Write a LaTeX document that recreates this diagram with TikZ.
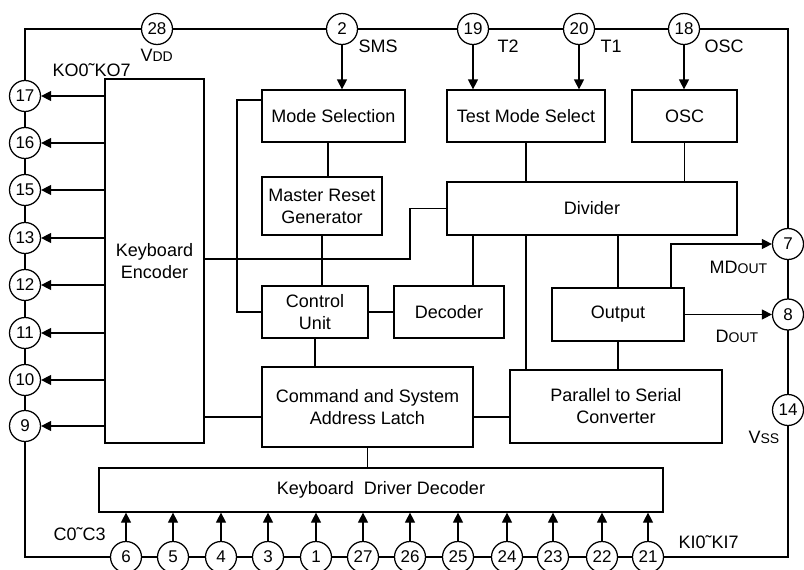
\documentclass[tikz,border=0pt]{standalone}
\usepackage{fontspec}
\setmainfont{Liberation Sans}
\usetikzlibrary{arrows.meta}
\newcommand\smc[1]{{\fontsize{14}{14}\selectfont #1}}
\begin{document}
\begin{tikzpicture}[x=1pt,y=-1pt,
 line width=1.25pt,
 box/.style={draw, line width=1.25pt, inner sep=0pt, align=center, font=\fontsize{18}{22}\selectfont},
 pin/.style={draw, circle, fill=white, minimum size=31pt, inner sep=0pt, font=\fontsize{17}{17}\selectfont},
 lbl/.style={anchor=base west, inner sep=0pt, font=\fontsize{18}{18}\selectfont},
 arr/.style={-{Triangle[length=10pt,width=10pt]}}
]
\useasboundingbox (0,0) rectangle (804,570);
\clip (0,0) rectangle (804,570);
\fill[white] (0,0) rectangle (804,570);

% frame
\draw (25,29) rectangle (788,557);

% boxes
\node[box, minimum width=99pt, minimum height=364pt] (enc) at (154.5,261) {Keyboard\\Encoder};
\node[box, minimum width=143pt, minimum height=52pt] (mode) at (333.5,116) {Mode Selection};
\node[box, minimum width=158pt, minimum height=52pt] (test) at (526,116) {Test Mode Select};
\node[box, minimum width=105pt, minimum height=52pt] (osc) at (684.5,116) {OSC};
\node[box, minimum width=290pt, minimum height=53pt] (div) at (592,208.5) {Divider};
\node[box, minimum width=120pt, minimum height=58pt] (mrg) at (322,206) {Master Reset\\Generator};
\node[box, minimum width=106pt, minimum height=52pt] (cu) at (315,312) {Control\\Unit};
\node[box, minimum width=110pt, minimum height=52pt] (dec) at (449,312) {Decoder};
\node[box, minimum width=211pt, minimum height=80pt] (csal) at (367.5,407) {Command and System\\Address Latch};
\node[box, minimum width=212pt, minimum height=73pt] (psc) at (616,406.5) {Parallel to Serial\\Converter};
\node[box, minimum width=132pt, minimum height=53pt] (out) at (618,314.5) {Output};
\node[box, minimum width=564pt, minimum height=44pt] (kdd) at (381,490) {Keyboard\ \ Driver Decoder};

% helper coordinates
\coordinate (x237) at (237,0);
\coordinate (x328) at (328,0);
\coordinate (x410) at (410,0);
\coordinate (x473) at (473,0);
\coordinate (x671) at (671,0);
\coordinate (y100) at (0,100);
\coordinate (y259) at (0,259);
\coordinate (y417) at (0,417);

% pins
\foreach \n/\x in {28/157, 2/342, 19/473, 20/579, 18/684}
  \node[pin] (p\n) at (\x,29) {\n};
\foreach \n/\y in {17/96, 16/143, 15/190, 13/238, 12/285, 11/333, 10/380, 9/426}
  \node[pin] (p\n) at (25,\y) {\n};
\foreach \n/\y in {7/244, 8/314.5, 14/410}
  \node[pin] (p\n) at (788,\y) {\n};
\foreach \n/\x in {6/126, 5/173, 4/221, 3/268, 1/316, 27/363, 26/410, 25/458, 24/507, 23/553, 22/602, 21/648}
  \node[pin] (p\n) at (\x,557) {\n};

% connectors: top inputs
\draw[arr] (p2.south) -- (p2 |- mode.north);
\draw[arr] (p19.south) -- (p19 |- test.north);
\draw[arr] (p20.south) -- (p20 |- test.north);
\draw[arr] (p18.south) -- (p18 |- osc.north);

% encoder outputs
\foreach \n in {17,16,15,13,12,11,10,9}
  \draw[arr] (enc.west |- p\n) -- (p\n.east);

% keyboard inputs
\foreach \n in {6,5,4,3,1,27,26,25,24,23,22,21}
  \draw[arr] (p\n.north) -- (p\n |- kdd.south);

% internal
\draw (test.south) -- (test.south |- div.north);
\draw (osc.south) -- (osc.south |- div.north);
\draw (x328 |- mode.south) -- (x328 |- mrg.north);
\draw (mrg.south) -- (mrg.south |- cu.north);
\draw (cu.south) -- (cu.south |- csal.north);
\draw (cu.east) -- (dec.west);
\draw (x473 |- div.south) -- (x473 |- dec.north);
\draw (test.south |- div.south) -- (test.south |- psc.north);
\draw (out.north |- div.south) -- (out.north);
\draw (out.south) -- (out.south |- psc.north);
\draw (csal.south) -- (csal.south |- kdd.north);
\draw (mode.west |- y100) -- (x237 |- y100) -- (x237 |- cu.west) -- (cu.west);
\draw (enc.east |- y259) -- (x410 |- y259) -- (x410 |- div.west) -- (div.west);
\draw (enc.east |- y417) -- (csal.west |- y417);
\draw (csal.east |- y417) -- (psc.west |- y417);
\draw[arr] (out.east) -- (p8.west);
\draw[arr] (x671 |- out.north) -- (x671 |- p7) -- (p7.west);

% labels
\node[lbl] (lvdd) at (140,61) {V\smc{DD}};
\node[lbl] (lko) at (52,76) {KO0˜KO7};
\node[lbl] (lsms) at (358,52) {SMS};
\node[lbl] (lt2) at (497,52) {T2};
\node[lbl] (lt1) at (600,52) {T1};
\node[lbl] (losc) at (704,52) {OSC};
\node[lbl] (lmd) at (709,273) {MD\smc{OUT}};
\node[lbl] (ld) at (715,342) {D\smc{OUT}};
\node[lbl] (lvss) at (748,443) {V\smc{SS}};
\node[lbl] (lc) at (53,540) {C0˜C3};
\node[lbl] (lki) at (678,548) {KI0˜KI7};
\end{tikzpicture}
\end{document}
